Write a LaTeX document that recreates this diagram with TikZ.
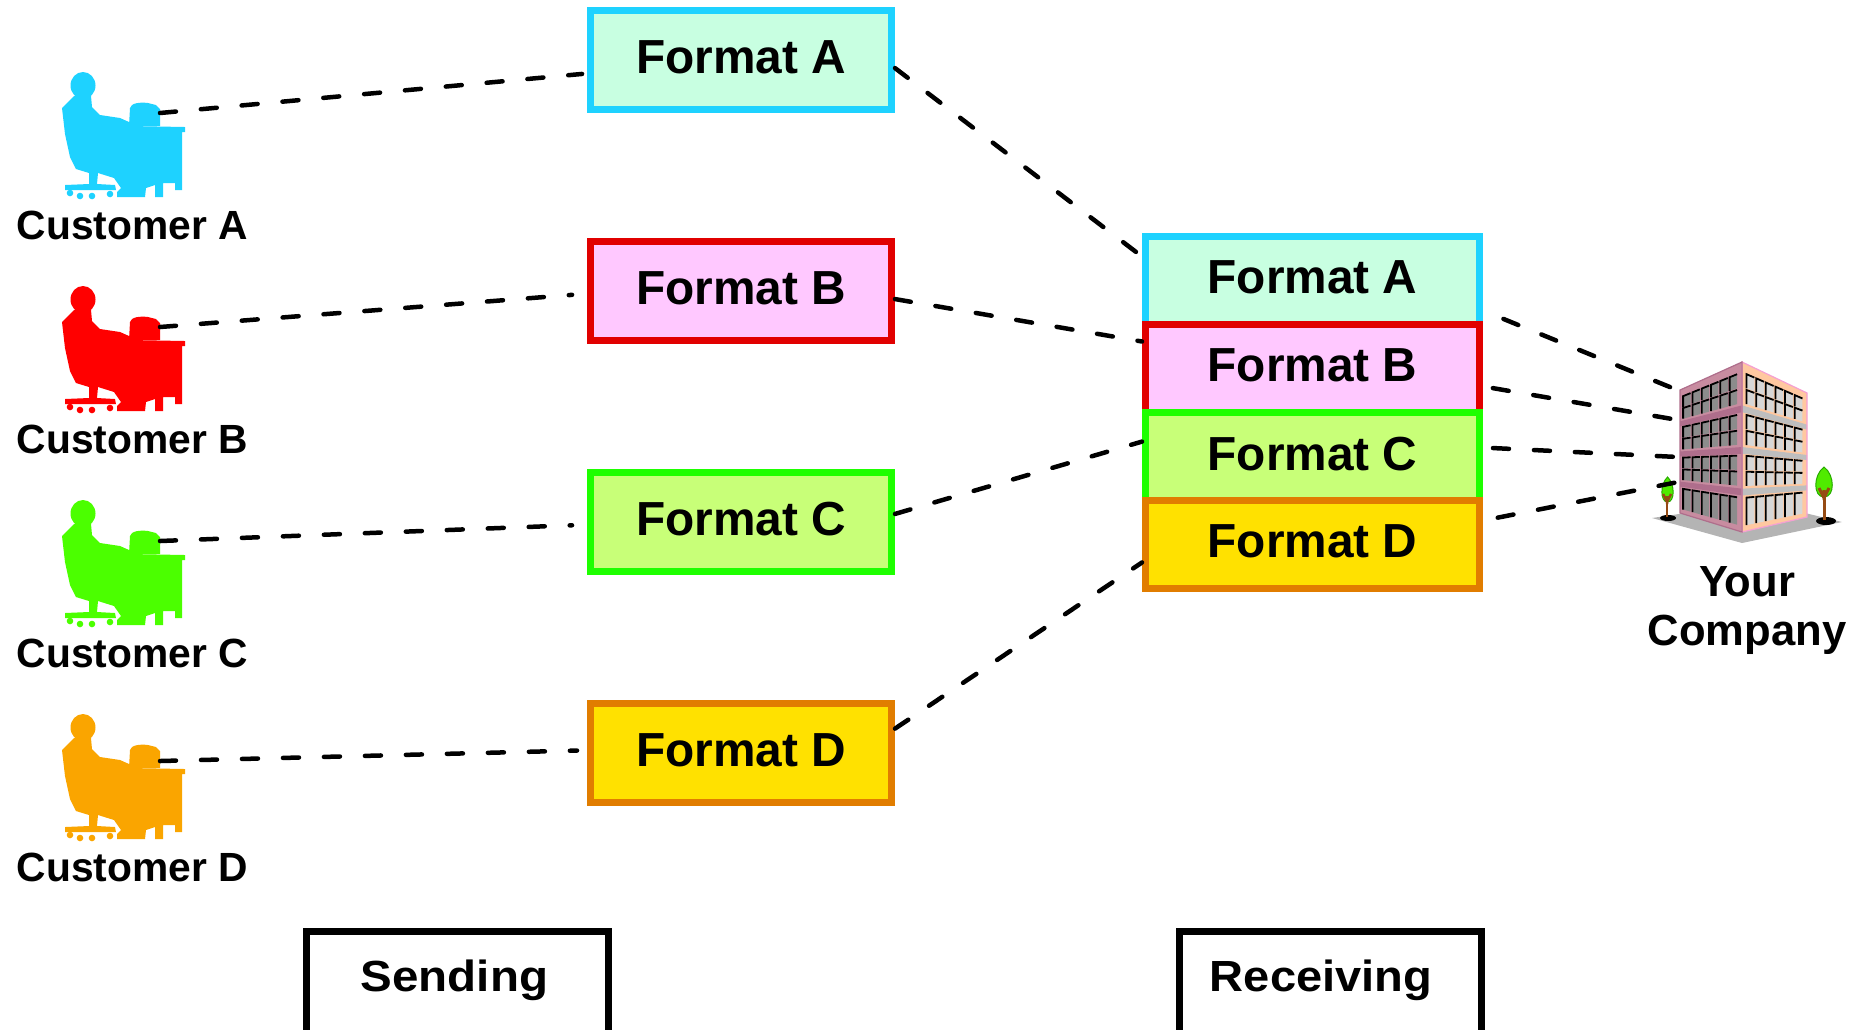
\documentclass[tikz,border=0pt]{standalone}
\usepackage{fontspec}
\setmainfont{Liberation Sans}
\usetikzlibrary{positioning}

\definecolor{lineA}{RGB}{30,210,255}
\definecolor{fillA}{RGB}{200,255,225}
\definecolor{lineB}{RGB}{225,0,0}
\definecolor{fillB}{RGB}{255,200,255}
\definecolor{lineC}{RGB}{30,255,0}
\definecolor{fillC}{RGB}{200,255,120}
\definecolor{lineD}{RGB}{225,125,0}
\definecolor{fillD}{RGB}{255,225,0}
\definecolor{manA}{RGB}{30,210,255}
\definecolor{manB}{RGB}{255,0,0}
\definecolor{manC}{RGB}{75,255,0}
\definecolor{manD}{RGB}{250,165,0}
\definecolor{wallL}{RGB}{200,140,160}
\definecolor{bandL}{RGB}{175,110,140}
\definecolor{paneL}{RGB}{140,140,140}
\definecolor{wallR}{RGB}{255,200,160}
\definecolor{bandR}{RGB}{190,190,190}
\definecolor{paneR}{RGB}{215,215,215}
\definecolor{edgeR}{RGB}{245,160,210}
\definecolor{ground}{RGB}{180,180,180}
\definecolor{leaf}{RGB}{80,235,0}
\definecolor{leafedge}{RGB}{40,170,0}
\definecolor{bark}{RGB}{150,75,20}

\newcommand\rfpt[2]{({65*(#1)},{31*(#1)+170*(#2)-46*(#1)*(#2)})}
\newcommand\lfpt[2]{({-62+62*(#1)},{28-28*(#1)+123*(#2)+47*(#1)*(#2)})}

\tikzset{
  pics/desk/.style={code={
    \fill[#1] (21,13.5) ellipse [x radius=1.25mm, y radius=1.35mm];
    \fill[#1] (0,36) -- (6,30) -- (12,24) -- (29,24) -- (30,35) -- (38,43) -- (58,46)
      -- (67,50) -- (68,54) -- (123,55) -- (123,60) -- (120,60) -- (120,118) -- (113,118)
      -- (113,111) -- (101,111) -- (101,125) -- (93,125) -- (93,113) -- (84,116) -- (83,125)
      -- (55,125) -- (55,120) -- (59,116) -- (52,106) -- (36,101) -- (35,112) -- (53,113)
      -- (54,118) -- (3,118) -- (3,113) -- (27,112) -- (27,101) -- (14,97) -- (8,85)
      -- (3,62) -- cycle;
    \fill[#1] (67,54) -- (68,36) .. controls (69,31) and (78,30) .. (86,31) -- (94,33)
      -- (98,37) -- (98,54) -- cycle;
    \foreach \wx/\wy in {8/121, 18/124, 30/124, 48/122}
      \fill[#1] (\wx,\wy) circle [radius=0.33mm];
    \coordinate (-out) at (98,41);
    \coordinate (-low) at (98,47);
  }},
  pics/office/.style={code={
    \fill[ground] (-90,156) -- (18,140) -- (100,160) -- (0,181) -- cycle;
    \fill[black] (-74,156) ellipse [x radius=0.8mm, y radius=0.3mm];
    \fill[black] (84,159) ellipse [x radius=1mm, y radius=0.4mm];
    \fill[wallL] \lfpt{0}{0} -- \lfpt{1}{0} -- \lfpt{1}{1} -- \lfpt{0}{1} -- cycle;
    \fill[wallR] \rfpt{0}{0} -- \rfpt{1}{0} -- \rfpt{1}{1} -- \rfpt{0}{1} -- cycle;
    \foreach \f in {0,1,2} {
      \pgfmathsetmacro\va{0.255+0.245*\f}
      \pgfmathsetmacro\vb{\va+0.04}
      \fill[bandL] \lfpt{0}{\va} -- \lfpt{1}{\va} -- \lfpt{1}{\vb} -- \lfpt{0}{\vb} -- cycle;
      \fill[bandR] \rfpt{0}{\va} -- \rfpt{1}{\va} -- \rfpt{1}{\vb} -- \rfpt{0}{\vb} -- cycle;
    }
    \foreach \f in {0,1,2} \foreach \r in {0,1} \foreach \c in {0,...,5} {
      \pgfmathsetmacro\va{0.06+0.245*\f+0.095*\r}
      \pgfmathsetmacro\vb{\va+0.085}
      \pgfmathsetmacro\ua{0.07+0.148*\c}
      \pgfmathsetmacro\ub{\ua+0.12}
      \pgfmathsetmacro\la{0.05+0.15*\c}
      \pgfmathsetmacro\lb{\la+0.12}
      \fill[paneR] \rfpt{\ua}{\va} -- \rfpt{\ub}{\va} -- \rfpt{\ub}{\vb} -- \rfpt{\ua}{\vb} -- cycle;
      \draw[line width=0.18mm] \rfpt{\ua}{\vb} -- \rfpt{\ua}{\va} -- \rfpt{\ub}{\va};
      \fill[paneL] \lfpt{\la}{\va} -- \lfpt{\lb}{\va} -- \lfpt{\lb}{\vb} -- \lfpt{\la}{\vb} -- cycle;
      \draw[line width=0.18mm] \lfpt{\la}{\vb} -- \lfpt{\la}{\va} -- \lfpt{\lb}{\va};
    }
    \foreach \c in {0,...,5} {
      \pgfmathsetmacro\ua{0.07+0.148*\c}
      \pgfmathsetmacro\ub{\ua+0.12}
      \pgfmathsetmacro\la{0.05+0.15*\c}
      \pgfmathsetmacro\lb{\la+0.12}
      \fill[paneR] \rfpt{\ua}{0.8} -- \rfpt{\ub}{0.8} -- \rfpt{\ub}{0.965} -- \rfpt{\ua}{0.965} -- cycle;
      \draw[line width=0.18mm] \rfpt{\ua}{0.965} -- \rfpt{\ua}{0.8} -- \rfpt{\ub}{0.8};
      \fill[paneL] \lfpt{\la}{0.8} -- \lfpt{\lb}{0.8} -- \lfpt{\lb}{0.965} -- \lfpt{\la}{0.965} -- cycle;
      \draw[line width=0.18mm] \lfpt{\la}{0.965} -- \lfpt{\la}{0.8} -- \lfpt{\lb}{0.8};
    }
    \draw[edgeR, line width=0.12mm] \rfpt{0}{0} -- \rfpt{1}{0} -- \rfpt{1}{1} -- \rfpt{0}{1} -- cycle;
    \draw[bandL, line width=0.12mm] \lfpt{0}{0} -- \lfpt{1}{0} -- \lfpt{1}{1} -- \lfpt{0}{1} -- cycle;
    \draw[bark, line width=0.25mm] (-75,155) -- (-75,128);
    \draw[bark, line width=0.3mm] (82,158) -- (82,118);
    \filldraw[fill=leaf, draw=leafedge, line width=0.1mm] (-74.5,115) .. controls (-67,122) and (-67,140) .. (-74.5,140)
      .. controls (-82,140) and (-82,122) .. (-74.5,115) -- cycle;
    \filldraw[fill=leaf, draw=leafedge, line width=0.1mm] (82,105) .. controls (93,113) and (93,135) .. (82,135)
      .. controls (71,135) and (71,113) .. (82,105) -- cycle;
    \draw[bark, line width=0.25mm] (-75,142) -- (-75,134) (-75,140) -- (-79,132) (-75,140) -- (-71,132);
    \draw[bark, line width=0.3mm] (82,138) -- (82,128) (82,136) -- (77,126) (82,136) -- (87,126);
    \coordinate (-a) at (-60,30);
    \coordinate (-b) at (-64,58);
    \coordinate (-c) at (-64,95);
    \coordinate (-d) at (-64,120);
  }}
}

\begin{document}
\begin{tikzpicture}[x=0.1mm, y=-0.1mm,
    fmt/.style 2 args={draw=#1, fill=#2, line width=0.7mm, inner sep=0pt,
      minimum width=30.1mm, minimum height=9.9mm, text depth=0.6mm,
      font=\fontsize{13.6}{16}\selectfont\bfseries},
    stack/.style 2 args={fmt={#1}{#2}, minimum width=33.4mm, minimum height=8.8mm},
    tagbox/.style={draw, line width=0.7mm, inner sep=0pt, minimum width=30.2mm,
      minimum height=10.6mm, text depth=1.8mm, font=\fontsize{12.4}{15}\selectfont\bfseries},
    who/.style={anchor=base west, inner sep=0pt, font=\fontsize{11.6}{14}\selectfont\bfseries},
    link/.style={line width=0.45mm, line cap=round, dash pattern=on 1.6mm off 2.5mm}]
  \useasboundingbox (0,0) rectangle (1873,1029);

  \pic (custA) at (62,72) {desk=manA};
  \pic (custB) at (62,286) {desk=manB};
  \pic (custC) at (62,500) {desk=manC};
  \pic (custD) at (62,714) {desk=manD};
  \node[who] (nameA) at (16,239) {Customer A};
  \node[who] (nameB) at (16,453) {Customer B};
  \node[who] (nameC) at (16,667) {Customer C};
  \node[who] (nameD) at (16,881) {Customer D};

  \node[fmt={lineA}{fillA}] (sA) at (741,60) {Format A};
  \node[fmt={lineB}{fillB}, below=12.5mm of sA] (sB) {Format B};
  \node[fmt={lineC}{fillC}, below=12.5mm of sB] (sC) {Format C};
  \node[fmt={lineD}{fillD}, below=12.5mm of sC] (sD) {Format D};

  \node[stack={lineA}{fillA}] (rA) at (1312.5,280.5) {Format A};
  \node[stack={lineB}{fillB}, below=-0.7mm of rA] (rB) {Format B};
  \node[stack={lineC}{fillC}, below=-0.7mm of rB] (rC) {Format C};
  \node[stack={lineD}{fillD}, below=-0.7mm of rC] (rD) {Format D};

  \pic (hq) at (1742,362) {office};
  \node[anchor=north, align=center, inner sep=0pt,
    font=\fontsize{12.4}{13.9}\selectfont\bfseries] (hqname) at (1747,566) {Your\\Company};

  \node[tagbox] (send) at (457.5,984.5) {\scalebox{1.09}[1]{Sending}\kern0.6mm};
  \node[tagbox] (recv) at (1330,984.5) {\scalebox{1.08}[1]{Receiving}\kern1.8mm};

  \draw[link, shorten >=0.5mm] (custA-out) -- (sA.185);
  \draw[link, shorten >=1.5mm] (custB-out) -- (sB.181.5);
  \draw[link, shorten >=1.5mm] (custC-out) -- (sC.181);
  \draw[link, shorten >=1mm] (custD-low) -- (sD.179);

  \draw[link] (sA.357.4) -- (rA.172);
  \draw[link] (sB.357.4) -- (rB.171.5);
  \draw[link] (sC.3.3) -- (rC.175.5);
  \draw[link] (sD.9.6) -- (rD.186.2);

  \draw[link, shorten <=2.2mm] (rA.350.2) -- (hq-a);
  \draw[link, shorten <=1mm] (rB.354.4) -- (hq-b);
  \draw[link, shorten <=1mm] (rC.3.4) -- (hq-c);
  \draw[link, shorten <=1.5mm] (rD.8.2) -- (hq-d);
\end{tikzpicture}
\end{document}
